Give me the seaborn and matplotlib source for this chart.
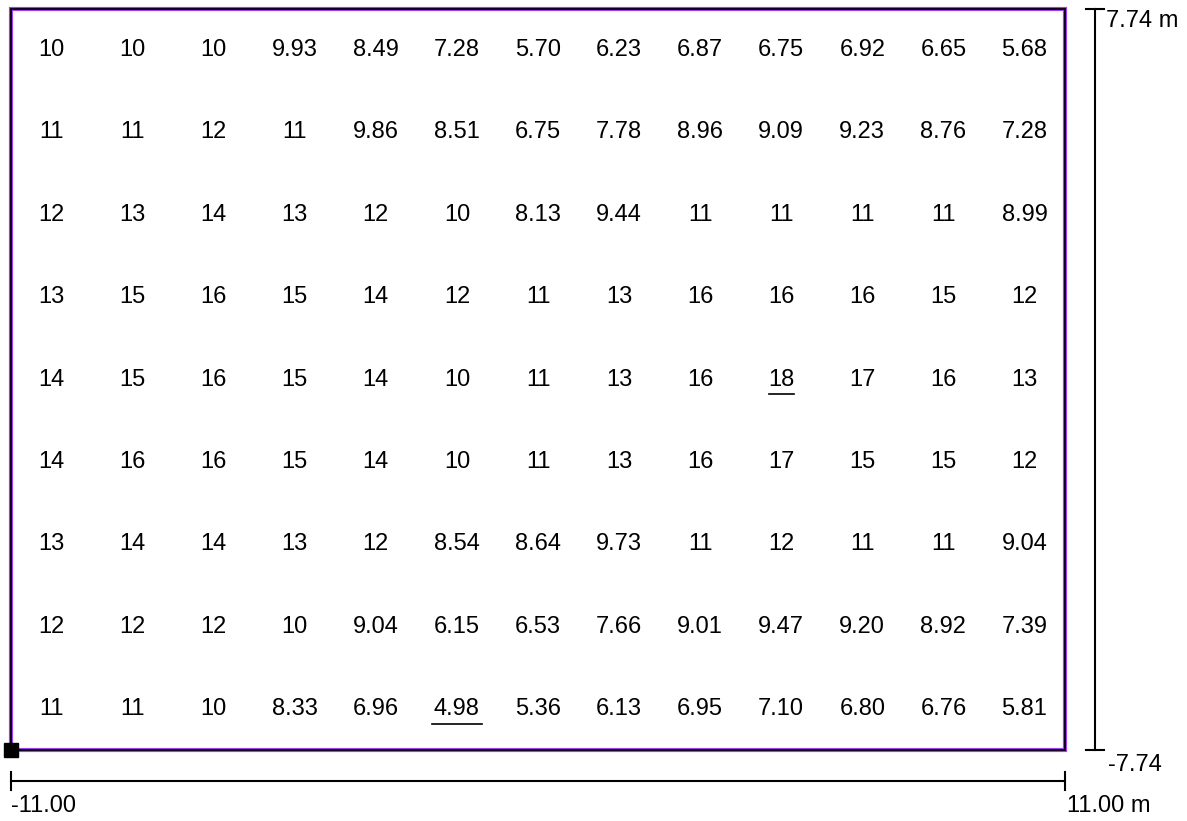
import numpy as np
import matplotlib.pyplot as plt
import seaborn as sns
from matplotlib.colors import ListedColormap

# illuminance grid values, rows top -> bottom
row1 = [10, 10, 10, 9.93, 8.49, 7.28, 5.70, 6.23, 6.87, 6.75, 6.92, 6.65, 5.68]
row2 = [11, 11, 12, 11, 9.86, 8.51, 6.75, 7.78, 8.96, 9.09, 9.23, 8.76, 7.28]
row3 = [12, 13, 14, 13, 12, 10, 8.13, 9.44, 11, 11, 11, 11, 8.99]
row4 = [13, 15, 16, 15, 14, 12, 11, 13, 16, 16, 16, 15, 12]
row5 = [14, 15, 16, 15, 14, 10, 11, 13, 16, 18, 17, 16, 13]
row6 = [14, 16, 16, 15, 14, 10, 11, 13, 16, 17, 15, 15, 12]
row7 = [13, 14, 14, 13, 12, 8.54, 8.64, 9.73, 11, 12, 11, 11, 9.04]
row8 = [12, 12, 12, 10, 9.04, 6.15, 6.53, 7.66, 9.01, 9.47, 9.20, 8.92, 7.39]
row9 = [11, 11, 10, 8.33, 6.96, 4.98, 5.36, 6.13, 6.95, 7.10, 6.80, 6.76, 5.81]

x_min, x_max = -11.00, 11.00
y_min, y_max = -7.74, 7.74

grid = np.array([row1, row2, row3, row4, row5, row6, row7, row8, row9])
labels = np.array([[f"{v:.0f}" if v >= 10 else f"{v:.2f}" for v in r] for r in grid])
nrows, ncols = grid.shape

W, H = 1187, 821
fig = plt.figure(figsize=(W / 100, H / 100), dpi=100)
font = 'Liberation Sans'
fs = 17

# plan area in pixels
px0, px1, py0, py1 = 11, 1065, 9, 750
ax = fig.add_axes([px0 / W, 1 - py1 / H, (px1 - px0) / W, (py1 - py0) / H])
sns.heatmap(grid, annot=labels, fmt='', cmap=ListedColormap(['white']), cbar=False,
            linewidths=0, ax=ax, annot_kws={'fontsize': fs, 'family': font, 'color': 'black'})
ax.set_xticks([])
ax.set_yticks([])
for s in ax.spines.values():
    s.set_visible(False)

# double border: purple edges, dark core
ax.add_patch(plt.Rectangle((0, 0), ncols, nrows, fill=False, ec='#a040f0', lw=3, clip_on=False))
ax.add_patch(plt.Rectangle((0, 0), ncols, nrows, fill=False, ec='#120018', lw=1.4, clip_on=False))

# underline max and min
for idx in [np.argmax(grid), np.argmin(grid)]:
    r, c = np.unravel_index(idx, grid.shape)
    hw = 0.078 * len(labels[r, c])
    ax.plot([c + 0.5 - hw, c + 0.5 + hw], [r + 0.68, r + 0.68], color='black', lw=1.2)

# origin marker
ax.plot(0, nrows, marker='s', color='black', markersize=10, clip_on=False)

# dimension lines
ov = fig.add_axes([0, 0, 1, 1])
ov.set_xlim(0, W)
ov.set_ylim(H, 0)
ov.axis('off')
ov.patch.set_alpha(0)

hy = 781
ov.plot([px0, px1], [hy, hy], color='black', lw=1.5)
ov.plot([px0, px0], [hy - 9, hy + 9], color='black', lw=1.5)
ov.plot([px1, px1], [hy - 9, hy + 9], color='black', lw=1.5)
ov.text(px0, 806, f"{x_min:.2f}", fontsize=fs, family=font, va='center', ha='left')
ov.text(px1 + 2, 806, f"{x_max:.2f} m", fontsize=fs, family=font, va='center', ha='left')

vx = 1095
ov.plot([vx, vx], [py0, py1], color='black', lw=1.5)
ov.plot([vx - 9, vx + 9], [py0, py0], color='black', lw=1.5)
ov.plot([vx - 9, vx + 9], [py1, py1], color='black', lw=1.5)
ov.text(1106, 21, f"{y_max:.2f} m", fontsize=fs, family=font, va='center', ha='left')
ov.text(1108, 765, f"{y_min:.2f}", fontsize=fs, family=font, va='center', ha='left')

fig.savefig('out.png', dpi=100, facecolor='white')
